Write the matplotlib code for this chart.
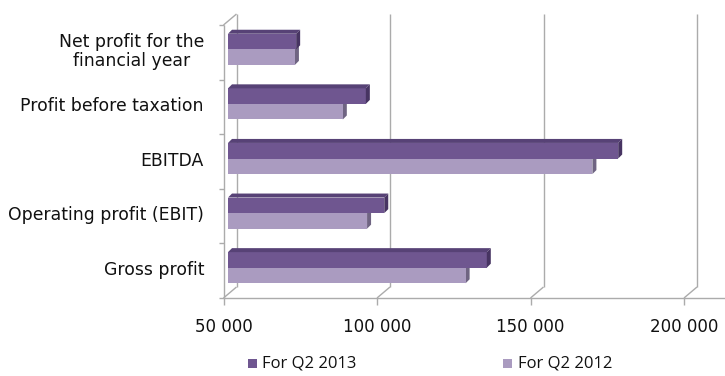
import matplotlib
matplotlib.use("Agg")
import matplotlib.pyplot as plt
from matplotlib.patches import Polygon, Rectangle

# chart data
categories = ["Gross profit", "Operating profit (EBIT)", "EBITDA",
              "Profit before taxation", "Net profit for the\nfinancial year"]
q2_2013 = [134300, 100900, 177100, 94900, 72200]
q2_2012 = [127400, 95300, 168700, 87400, 71800]
series_labels = ["For Q2 2013", "For Q2 2012"]
x_ticks = [50000, 100000, 150000, 200000]
x_tick_labels = ["50 000", "100 000", "150 000", "200 000"]

W, H = 725, 376
fig = plt.figure(figsize=(W / 100, H / 100), dpi=100)
ax_left, ax_right, ax_bot, ax_top = 223.5, 684.0, 298.0, 25.0
ax = fig.add_axes([ax_left / W, 1 - ax_bot / H,
                   (ax_right - ax_left) / W, (ax_bot - ax_top) / H])
x0, x1 = 50000, 200000
ax.set_xlim(x0, x1)
ax.set_ylim(-0.5, 4.5)
ax.axis("off")

# pixel -> data unit factors
kx = (x1 - x0) / (ax_right - ax_left)
ky = 5.0 / (ax_bot - ax_top)

grid_col = "#ababab"
wall_dx, wall_dy = 13 * kx, 11 * ky


def line(xs, ys, **kw):
    ax.plot(xs, ys, color=grid_col, lw=1.0, clip_on=False, solid_capstyle="butt", **kw)


# back wall gridlines with the floor diagonals
for v in x_ticks:
    line([v + wall_dx, v + wall_dx], [-0.5 + wall_dy, 4.5 + wall_dy])
    line([v, v + wall_dx], [-0.5, -0.5 + wall_dy])
    line([v, v], [-0.5, -0.5 - 7 * ky])

# left wall front edge, top diagonal and category ticks
line([x0, x0], [-0.5, 4.5])
line([x0, x0 + wall_dx], [4.5, 4.5 + wall_dy])
for b in range(6):
    line([x0 - 5 * kx, x0], [b - 0.5, b - 0.5])

# floor front edge
line([x0, x0 + (W - ax_left) * kx], [-0.5, -0.5])

# 3d bars
front_13, top_13, side_13 = "#6f5690", "#574276", "#473462"
front_12, side_12 = "#aa9bc0", "#6f6482"
bar_h = 0.285
bx, by = 4.5 * kx, 3 * ky       # bar placement inside the depth
ddx, ddy = 4 * kx, 4 * ky       # bar depth

for i, (a, b) in enumerate(zip(q2_2013, q2_2012)):
    c = i + by
    # 2012 bar (lower)
    y0, y1 = c - bar_h, c
    ax.add_patch(Rectangle((x0 + bx, y0), b - x0, bar_h, fc=front_12, ec="none",
                           clip_on=False, zorder=3))
    ax.add_patch(Polygon([(b + bx, y0), (b + bx, y1), (b + bx + ddx, y1 + ddy),
                          (b + bx + ddx, y0 + ddy)], closed=True, fc=side_12,
                         ec="none", clip_on=False, zorder=2))
    # 2013 bar (upper)
    y0, y1 = c, c + bar_h
    ax.add_patch(Rectangle((x0 + bx, y0), a - x0, bar_h, fc=front_13, ec="none",
                           clip_on=False, zorder=3))
    ax.add_patch(Polygon([(x0 + bx, y1), (a + bx, y1), (a + bx + ddx, y1 + ddy),
                          (x0 + bx + ddx, y1 + ddy)], closed=True, fc=top_13,
                         ec="none", clip_on=False, zorder=3))
    ax.add_patch(Polygon([(a + bx, y0), (a + bx, y1), (a + bx + ddx, y1 + ddy),
                          (a + bx + ddx, y0 + ddy)], closed=True, fc=side_13,
                         ec="none", clip_on=False, zorder=3))

# category labels
for i, name in enumerate(categories):
    ax.text(x0 - 19.5 * kx, i + by - 2 * ky, name, ha="right", va="center",
            multialignment="center", fontsize=12.4, color="#111111",
            family="DejaVu Sans", linespacing=1.05)

# x tick labels
for v, lab in zip(x_ticks, x_tick_labels):
    ax.text(v, -0.5 - 29 * ky, lab, ha="center", va="center", fontsize=12,
            color="#111111", family="DejaVu Sans")

# legend
for (sx, tx), lab, col in zip([(248, 262), (503, 518)], series_labels,
                              [front_13, front_12]):
    fig.patches.append(Rectangle((sx / W, 1 - 368 / H), 9 / W, 9 / H,
                                 transform=fig.transFigure, fc=col, ec="none"))
    fig.text(tx / W, 1 - 363 / H, lab, ha="left", va="center", fontsize=12,
             color="#111111", family="Open Sans")

fig.savefig("out.png", dpi=100)
